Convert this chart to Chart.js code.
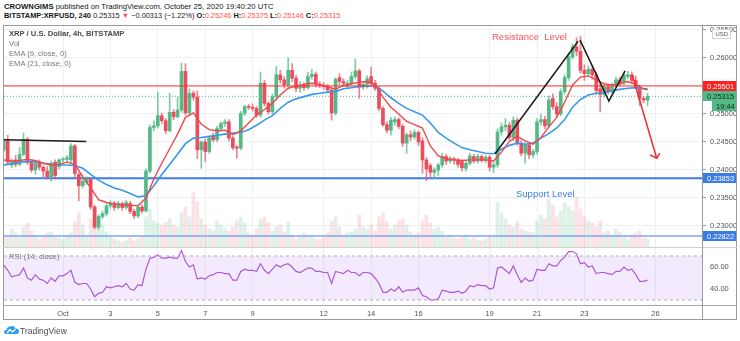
<!DOCTYPE html>
<html>
<head>
<meta charset="utf-8">
<script src="https://cdn.jsdelivr.net/npm/chart.js@4.4.0/dist/chart.umd.min.js"></script>
<style>
    body { margin: 0; width: 740px; height: 341px; background: #fff; position: relative; overflow: hidden;
           font-family: "Liberation Sans", Arial, sans-serif; color: #131722; }
    .txt { position: absolute; white-space: nowrap; line-height: 10px; }
    .rd { color: #ff4f4f; }
    .ln { position: absolute; }
    canvas { position: absolute; }
</style>
</head>
<body>
<div class="txt" style="left:4px;top:2px;font-size:7.7px"><b>CROWNGIMS</b> published on TradingView.com, October 25, 2020 19:40:20 UTC</div>
<div class="txt" style="left:4px;top:11px;font-size:7.4px"><b>BITSTAMP:XRPUSD, 240</b> 0.25315 <span class="rd">&#9660;</span> &minus;0.00313 (&minus;1.22%) <b>O:</b><span class="rd">0.25246</span> <b>H:</b><span class="rd">0.25375</span> <b>L:</b><span class="rd">0.25146</span> <b>C:</b><span class="rd">0.25315</span></div>

<div class="ln" style="left:3px;top:25px;width:734px;height:295px;border:1px solid #9b9b9b;box-sizing:border-box"></div>
<div class="ln" style="left:3px;top:247px;width:734px;height:1px;background:#d0d0d0"></div>
<div class="ln" style="left:3px;top:305px;width:734px;height:1px;background:#a8a8a8"></div>
<div class="ln" style="left:702px;top:25px;width:1px;height:295px;background:#9b9b9b"></div>

<canvas id="priceChart" width="732" height="221" style="left:4px;top:26px"></canvas>
<canvas id="rsiChart" width="732" height="71" style="left:4px;top:248px"></canvas>

<div class="txt" style="left:9px;top:29px;font-size:7.6px;color:#4a4a4a;font-weight:bold">XRP / U.S. Dollar, 4h, BITSTAMP</div>
<div class="txt" style="left:9px;top:39px;font-size:7.6px;color:#777">Vol</div>
<div class="txt" style="left:9px;top:49px;font-size:7.6px;color:#777">EMA (9, close, 0)</div>
<div class="txt" style="left:9px;top:59px;font-size:7.6px;color:#777">EMA (21, close, 0)</div>
<div class="txt" style="left:492px;top:32px;font-size:9.5px;color:#ff5252">Resistance&nbsp; Level</div>
<div class="txt" style="left:516px;top:189px;font-size:9.5px;color:#3f7fe0">Support Level</div>
<div class="txt" style="left:9px;top:252px;font-size:7.6px;color:#777">RSI (14, close)</div>

<svg style="position:absolute;left:4px;top:325px" width="15" height="10" viewBox="0 0 15 10">
    <path d="M2 9 Q0 9 0 7 Q0 5 2.5 5 Q3 1 7 1.5 Q10 0 11.5 3.5 Q15 3.5 15 6.5 Q15 9 12.5 9 Z" fill="#2e9cf0"/>
    <path d="M3 8 L6 4.5 L8.5 7 L11.5 4" stroke="#fff" stroke-width="1.2" fill="none"/>
</svg>
<div class="txt" style="left:20px;top:326px;font-size:8.5px;color:#4a4a4a">TradingView</div>

<script>
'use strict'

/* 4h bars, index 0 = Oct 1 00:00 */
var firstBar = -15;

var opens = [
    .2436, .2452, .2409, .2418, .2410, .2428, .2455, .2414, .2400, .2412, .2405, .2398,
    .2388, .2414, .2406, .2418, .2419, .2418, .2443, .2392, .2372, .2378, .2383, .2334,
    .2298, .2317, .2322, .2336, .2340, .2333, .2340, .2333, .2340, .2326, .2318, .2334,
    .2327, .2398, .2476, .2479, .2497, .2488, .2470, .2503, .2495, .2507, .2576, .2502,
    .2537, .2530, .2436, .2450, .2433, .2460, .2454, .2474, .2483, .2486, .2457, .2440,
    .2439, .2501, .2513, .2512, .2510, .2498, .2555, .2519, .2504, .2531, .2570, .2561,
    .2552, .2578, .2564, .2546, .2551, .2547, .2567, .2571, .2553, .2551, .2549, .2543,
    .2502, .2565, .2558, .2549, .2555, .2567, .2577, .2548, .2553, .2567, .2555, .2546,
    .2510, .2481, .2471, .2486, .2490, .2478, .2448, .2463, .2459, .2467, .2452, .2418,
    .2408, .2396, .2400, .2409, .2424, .2416, .2420, .2418, .2415, .2403, .2412, .2424,
    .2416, .2424, .2417, .2423, .2405, .2409, .2468, .2477, .2480, .2458, .2489, .2448,
    .2430, .2445, .2427, .2433, .2486, .2490, .2479, .2528, .2513, .2500, .2540, .2565,
    .2602, .2620, .2612, .2578, .2572, .2580, .2570, .2545, .2535, .2548, .2540, .2550,
    .2561, .2556, .2567, .2570, .2560, .2547, .2528, .25246
];
var highs = [
    .2456, .2462, .2420, .2426, .2440, .2466, .2458, .2418, .2416, .2418, .2408, .2406,
    .2416, .2418, .2420, .2422, .2426, .2447, .2446, .2395, .2386, .2388, .2386, .2337,
    .2320, .2327, .2340, .2345, .2344, .2344, .2343, .2346, .2344, .2330, .2338, .2338,
    .2402, .2480, .2488, .2539, .2502, .2492, .2537, .2508, .2530, .2591, .2590, .2545,
    .2541, .2541, .2452, .2455, .2460, .2466, .2478, .2486, .2490, .2490, .2460, .2444,
    .2505, .2516, .2517, .2518, .2513, .2575, .2560, .2522, .2536, .2585, .2578, .2567,
    .2600, .2590, .2569, .2558, .2556, .2575, .2580, .2575, .2558, .2556, .2553, .2548,
    .2565, .2572, .2563, .2560, .2575, .2598, .2580, .2558, .2568, .2584, .2560, .2549,
    .2513, .2486, .2494, .2495, .2493, .2482, .2466, .2470, .2472, .2470, .2458, .2422,
    .2412, .2404, .2412, .2430, .2428, .2424, .2423, .2421, .2418, .2416, .2430, .2428,
    .2428, .2427, .2426, .2426, .2414, .2474, .2484, .2492, .2485, .2495, .2493, .2452,
    .2449, .2448, .2437, .2492, .2500, .2496, .2532, .2536, .2520, .2545, .2570, .2608,
    .2625, .2636, .2639, .2588, .2586, .2585, .2575, .2558, .2555, .2552, .2555, .2566,
    .2566, .2575, .2576, .2575, .2568, .2552, .2531, .25375
];
var lows = [
    .2432, .2410, .2404, .2406, .2407, .2425, .2410, .2396, .2392, .2400, .2388, .2384,
    .2380, .2384, .2402, .2414, .2415, .2412, .2388, .2345, .2368, .2374, .2330, .2295,
    .2294, .2313, .2318, .2332, .2328, .2330, .2328, .2330, .2322, .2313, .2315, .2323,
    .2325, .2395, .2470, .2475, .2483, .2465, .2468, .2490, .2493, .2503, .2498, .2497,
    .2525, .2420, .2403, .2415, .2430, .2450, .2450, .2470, .2478, .2452, .2436, .2421,
    .2436, .2497, .2508, .2505, .2494, .2494, .2514, .2500, .2500, .2527, .2555, .2546,
    .2548, .2558, .2540, .2539, .2542, .2544, .2562, .2548, .2547, .2544, .2538, .2489,
    .2498, .2552, .2549, .2546, .2551, .2563, .2528, .2544, .2546, .2552, .2542, .2506,
    .2478, .2466, .2462, .2480, .2474, .2442, .2430, .2452, .2455, .2444, .2394, .2381,
    .2388, .2384, .2390, .2405, .2410, .2412, .2410, .2405, .2398, .2398, .2409, .2412,
    .2412, .2414, .2413, .2398, .2395, .2405, .2462, .2470, .2454, .2452, .2444, .2425,
    .2412, .2420, .2422, .2428, .2480, .2474, .2476, .2508, .2495, .2497, .2535, .2560,
    .2598, .2604, .2573, .2560, .2566, .2562, .2535, .2504, .2530, .2536, .2536, .2546,
    .2550, .2552, .2563, .2555, .2545, .2515, .2520, .25146
];
var closes = [
    .2452, .2414, .2415, .2410, .2428, .2455, .2414, .2400, .2412, .2405, .2398, .2388,
    .2412, .2390, .2418, .2419, .2422, .2443, .2394, .2372, .2380, .2383, .2334, .2298,
    .2317, .2322, .2336, .2340, .2333, .2340, .2333, .2342, .2326, .2318, .2334, .2327,
    .2398, .2476, .2479, .2497, .2488, .2470, .2503, .2495, .2507, .2576, .2502, .2537,
    .2530, .2436, .2450, .2433, .2457, .2454, .2474, .2483, .2486, .2457, .2440, .2439,
    .2501, .2513, .2512, .2510, .2498, .2555, .2519, .2504, .2531, .2570, .2561, .2552,
    .2578, .2564, .2546, .2551, .2547, .2567, .2571, .2553, .2551, .2549, .2543, .2502,
    .2562, .2558, .2555, .2555, .2567, .2577, .2548, .2553, .2563, .2555, .2546, .2510,
    .2481, .2471, .2489, .2490, .2478, .2448, .2463, .2459, .2467, .2450, .2418, .2402,
    .2396, .2400, .2409, .2424, .2416, .2420, .2417, .2410, .2404, .2412, .2425, .2416,
    .2424, .2417, .2423, .2405, .2409, .2468, .2477, .2480, .2458, .2489, .2448, .2430,
    .2445, .2427, .2433, .2486, .2490, .2479, .2525, .2513, .2500, .2540, .2565, .2602,
    .2620, .2612, .2578, .2572, .2580, .2570, .2542, .2535, .2548, .2540, .2550, .2561,
    .2556, .2570, .2570, .2560, .2547, .2528, .2525, .25315
];
// volume, drawn on its own hidden axis at the foot of the price pane
var volumes = [
    12, 10, 18, 14, 9, 20, 24, 16, 12, 8, 11, 14,
    15, 10, 9, 8, 12, 14, 25, 34, 22, 12, 28, 38,
    30, 22, 15, 10, 8, 6, 5, 7, 9, 6, 8, 10,
    30, 38, 26, 24, 22, 25, 28, 22, 20, 34, 40, 30,
    55, 45, 28, 22, 18, 16, 26, 22, 18, 16, 20, 26,
    30, 24, 14, 12, 18, 28, 30, 24, 16, 20, 22, 15,
    25, 12, 8, 10, 14, 12, 10, 8, 8, 10, 14, 26,
    30, 20, 12, 14, 15, 18, 32, 20, 18, 22, 16, 30,
    34, 25, 18, 22, 26, 28, 22, 15, 12, 14, 26, 32,
    24, 18, 20, 16, 10, 12, 9, 8, 10, 12, 8, 9,
    7, 6, 8, 10, 12, 45, 34, 28, 22, 20, 26, 18,
    16, 15, 14, 26, 32, 28, 48, 42, 30, 36, 44, 40,
    36, 50, 38, 30, 26, 24, 20, 26, 14, 16, 12, 18,
    15, 10, 8, 12, 14, 16, 9, 8
];
var rsiValues = [
    62, 57, 51, 52, 53, 59, 50, 48, 53, 49, 48, 45,
    50, 47, 52, 52, 54, 57, 46, 44, 45, 45, 40, 33,
    36, 37, 42, 41, 42, 43, 42, 45, 40, 39, 44, 43,
    58, 68, 69, 71, 68, 68, 69, 68, 68, 75, 65, 60,
    62, 49, 50, 49, 52, 53, 55, 55, 54, 54, 48, 48,
    56, 58, 57, 57, 56, 63, 57, 54, 58, 62, 60, 62,
    63, 60, 56, 55, 57, 59, 59, 56, 56, 55, 55, 45,
    56, 55, 54, 57, 55, 55, 52, 55, 55, 54, 50, 45,
    37, 37, 40, 38, 42, 37, 39, 39, 39, 41, 34, 33,
    30, 30, 31, 39, 38, 37, 37, 38, 36, 38, 43, 42,
    44, 43, 43, 40, 41, 59, 60, 57, 54, 61, 53, 46,
    50, 47, 48, 58, 57, 57, 63, 61, 61, 66, 69, 74,
    74, 72, 63, 64, 60, 61, 54, 55, 55, 54, 53, 56,
    56, 60, 57, 58, 53, 47, 47, 48
];

// EMA lines, sampled every second bar
var emaBars = [
    -15, -13, -11, -9, -7, -5, -3, -1, 1, 3, 5, 7, 9, 11, 13, 15, 17, 19, 21, 23, 25, 27, 29, 31,
    33, 35, 37, 39, 41, 43, 45, 47, 49, 51, 53, 55, 57, 59, 61, 63, 65, 67, 69, 71, 73, 75, 77, 79,
    81, 83, 85, 87, 89, 91, 93, 95, 97, 99, 101, 103, 105, 107, 109, 111, 113, 115, 117, 119, 121, 123,
    125, 127, 129, 131, 133, 135, 137, 139, 141, 143, 145, 147, 148
];
var ema9 = [
    .2418, .2416, .2417, .2419, .2417, .2412, .2409, .2410, .2414, .2410, .2388, .2368, .2347, .2342, .2340, .2338, .2337, .2336, .2350, .2384, .2412, .2438, .2464, .2494,
    .2502, .2482, .2472, .2470, .2471, .2463, .2470, .2484, .2498, .2508, .2519, .2534, .2546, .2550, .2553, .2555, .2553, .2549, .2544, .2551, .2554, .2557, .2558, .2552,
    .2530, .2512, .2500, .2487, .2481, .2475, .2443, .2425, .2421, .2418, .2417, .2418, .2418, .2418, .2416, .2432, .2451, .2460, .2452, .2446, .2458, .2477,
    .2494, .2521, .2552, .2566, .2568, .2561, .2554, .2552, .2554, .2558, .2553, .2545, .2543
];
var ema21 = [
    .2409, .2411, .2414, .2415, .2415, .2412, .2410, .2409, .2409, .2408, .2403, .2392, .2382, .2374, .2368, .2364, .2358, .2352, .2354, .2372, .2392, .2410, .2428, .2447,
    .2457, .2458, .2460, .2462, .2464, .2466, .2467, .2472, .2480, .2489, .2497, .2510, .2521, .2527, .2531, .2535, .2537, .2539, .2540, .2545, .2547, .2549, .2550, .2550,
    .2541, .2529, .2519, .2510, .2504, .2498, .2484, .2467, .2457, .2448, .2440, .2436, .2433, .2430, .2429, .2437, .2444, .2448, .2446, .2448, .2457, .2465,
    .2475, .2490, .2512, .2526, .2534, .2537, .2538, .2541, .2544, .2546, .2547, .2545, .2545
];

var dayTicks = [0, 12, 24, 36, 48, 66, 78, 90, 108, 120, 132, 150];
var dayLabels = ['Oct', '3', '5', '7', '9', '12', '14', '16', '19', '21', '23', '26'];
var priceTicks = [0.23, 0.235, 0.24, 0.245, 0.25, 0.255, 0.26, 0.265];
var rsiTicks = [40, 60];

var resistanceLevel = 0.25501;
var lastPrice = 0.25315;
var supportLevel = 0.23853;
var lowerLevel = 0.22822;

// hand drawn studies: [bar, price]
var flatLine = [[-15.2, 0.2454], [5.9, 0.2451]];
var riseLine = [[109.4, 0.2429], [130.4, 0.2630]];
var zigLine = [[130.9, 0.2632], [138.2, 0.2523], [142.3, 0.2577]];
var arrowLine = [[144.1, 0.2570], [150.3, 0.2421]];
var arrowHead = [[148.6, 0.2427], [150.3, 0.2421], [151.1, 0.2430]];

var xMin = -14.94, xMax = 161.77;

var upColor = '#53b987', downColor = '#eb4d5c';
var fontFamily = '"Liberation Sans", Arial, sans-serif';

var bodies = [], wicks = [], vols = [], bodyColors = [], wickColors = [], volColors = [], rsiLine = [];
for (var i = 0; i < closes.length; i++) {
    var bar = firstBar + i;
    var up = closes[i] >= opens[i];
    bodies.push({ x: bar, y: [opens[i], closes[i]] });
    wicks.push({ x: bar, y: [lows[i], highs[i]] });
    vols.push({ x: bar, y: volumes[i] });
    rsiLine.push({ x: bar, y: rsiValues[i] });
    bodyColors.push(up ? upColor : downColor);
    wickColors.push(up ? 'rgba(83,185,135,0.75)' : 'rgba(235,77,92,0.7)');
    volColors.push(up ? 'rgba(83,185,135,0.2)' : 'rgba(235,77,92,0.16)');
}
function pts(list) {
    return list.map(function (p) { return { x: p[0], y: p[1] }; });
}
function level(value) {
    return [{ x: xMin, y: value }, { x: xMax, y: value }];
}
function emaPoints(values) {
    return values.map(function (v, j) { return { x: emaBars[j], y: v }; });
}
function drawing(data, color, width, order) {
    return { type: 'line', data: data, borderColor: color, borderWidth: width, pointRadius: 0, fill: false, order: order, tension: 0 };
}

var dayAxis = function (showLabels) {
    return {
        type: 'linear', min: xMin, max: xMax, offset: false,
        afterBuildTicks: function (scale) {
            scale.ticks = dayTicks.map(function (v) { return { value: v }; });
        },
        afterFit: function (scale) {
            scale.height = showLabels ? 14 : 0;
            scale.paddingLeft = 0; scale.paddingRight = 0;
        },
        grid: { color: '#edf1f5', offset: false, drawTicks: false },
        border: { display: false },
        ticks: {
            display: showLabels, padding: 4, maxRotation: 0, autoSkip: false,
            color: '#555', font: { family: fontFamily, size: 7.5 },
            callback: function (v) { return dayLabels[dayTicks.indexOf(v)]; }
        }
    };
};

/* price labels on the right axis */
var priceBadges = {
    id: 'priceBadges',
    afterDraw: function (chart) {
        var ctx = chart.ctx, ys = chart.scales.y, left = chart.chartArea.right + 1, w = chart.width - left;
        var badges = [
            { value: resistanceLevel, bg: '#ff1f1f', fg: '#fff', text: resistanceLevel.toFixed(5) },
            { value: lastPrice, bg: '#53b987', fg: '#0d2b1b', text: lastPrice.toFixed(5) },
            { value: lastPrice, shift: 10, inset: 9, bg: '#53b987', fg: '#0d2b1b', text: '19:44' },
            { value: supportLevel, bg: '#3b7ce6', fg: '#fff', text: supportLevel.toFixed(5) },
            { value: lowerLevel, bg: '#3b7ce6', fg: '#fff', text: lowerLevel.toFixed(5) }
        ];
        ctx.save();
        ctx.font = '7.5px ' + fontFamily;
        ctx.textBaseline = 'middle';
        badges.forEach(function (b) {
            var py = Math.round(ys.getPixelForValue(b.value)) + (b.shift || 0);
            var x0 = left + (b.inset || 0);
            ctx.fillStyle = b.bg;
            ctx.fillRect(x0, py - 5, w - (b.inset || 0), 10);
            ctx.fillStyle = b.fg;
            ctx.fillText(b.text, x0 + 4, py + 0.5);
        });
        // currency tag
        ctx.fillStyle = '#fff';
        ctx.strokeStyle = '#d4d4d4';
        ctx.fillRect(left + 9.5, 3.5, 18, 9);
        ctx.strokeRect(left + 9.5, 3.5, 18, 9);
        ctx.fillStyle = '#555';
        ctx.font = '6px ' + fontFamily;
        ctx.fillText('USD', left + 12.5, 8.5);
        ctx.restore();
    }
};

var priceChart = new Chart(document.getElementById('priceChart'), {
    type: 'bar',
    data: {
        datasets: [
            { data: vols, yAxisID: 'yVol', backgroundColor: volColors, barThickness: 3, grouped: false, order: 10 },
            drawing(level(lowerLevel), '#7fa6ee', 1.5, 9),
            drawing(level(supportLevel), '#3b7ce6', 2, 9),
            Object.assign(drawing(level(lastPrice), '#53b987', 1, 9), { borderDash: [1, 2] }),
            { data: wicks, backgroundColor: wickColors, barThickness: 1, grouped: false, order: 7 },
            { data: bodies, backgroundColor: bodyColors, barThickness: 3, minBarLength: 1, grouped: false, order: 6 },
            drawing(emaPoints(ema21), '#3a98ec', 1.6, 4),
            drawing(emaPoints(ema9), '#f2474a', 1.4, 3),
            drawing(level(resistanceLevel), '#ff3030', 1, 2),
            drawing(pts(flatLine), '#1a1a1a', 1.5, 1),
            drawing(pts(riseLine), '#1a1a1a', 1.5, 1),
            drawing(pts(zigLine), '#1a1a1a', 1.5, 1),
            drawing(pts(arrowLine), '#f22c2c', 1.5, 1),
            drawing(pts(arrowHead), '#f22c2c', 1.5, 1)
        ]
    },
    options: {
        responsive: false,
        animation: false,
        events: [],
        layout: { padding: 0 },
        plugins: { legend: { display: false }, tooltip: { enabled: false } },
        scales: {
            x: dayAxis(false),
            y: {
                position: 'right', min: 0.22625, max: 0.265714,
                afterBuildTicks: function (scale) {
                    scale.ticks = priceTicks.map(function (v) { return { value: v }; });
                },
                afterFit: function (scale) {
                    scale.width = 34;
                    scale.paddingTop = 0; scale.paddingBottom = 0;
                },
                grid: { color: '#edf1f5', tickColor: '#9b9b9b', tickLength: 4 },
                border: { display: false },
                ticks: {
                    padding: 4, color: '#555', font: { family: fontFamily, size: 7.5 },
                    callback: function (v) { return Number(v).toFixed(5); }
                }
            },
            yVol: { display: false, min: 0, max: 221 }
        }
    },
    plugins: [priceBadges]
});

var rsiChart = new Chart(document.getElementById('rsiChart'), {
    type: 'line',
    data: {
        datasets: [
            { data: level(70), borderColor: '#b0b0b0', borderWidth: 1, borderDash: [3, 3], pointRadius: 0, fill: '+1', backgroundColor: 'rgba(150,70,235,0.11)' },
            { data: level(30), borderColor: '#b0b0b0', borderWidth: 1, borderDash: [3, 3], pointRadius: 0, fill: false },
            { data: rsiLine, borderColor: '#b25ad6', borderWidth: 1.2, pointRadius: 0, fill: false, tension: 0 }
        ]
    },
    options: {
        responsive: false,
        animation: false,
        events: [],
        layout: { padding: 0 },
        plugins: { legend: { display: false }, tooltip: { enabled: false } },
        scales: {
            x: dayAxis(true),
            y: {
                position: 'right', min: 25.45, max: 77.27,
                afterBuildTicks: function (scale) {
                    scale.ticks = rsiTicks.map(function (v) { return { value: v }; });
                },
                afterFit: function (scale) {
                    scale.width = 34;
                    scale.paddingTop = 0; scale.paddingBottom = 0;
                },
                grid: { display: false, drawTicks: true, tickLength: 4, tickColor: '#9b9b9b' },
                border: { display: false },
                ticks: {
                    padding: 4, color: '#555', font: { family: fontFamily, size: 7.5 },
                    callback: function (v) { return Number(v).toFixed(2); }
                }
            }
        }
    }
});
</script>
</body>
</html>
